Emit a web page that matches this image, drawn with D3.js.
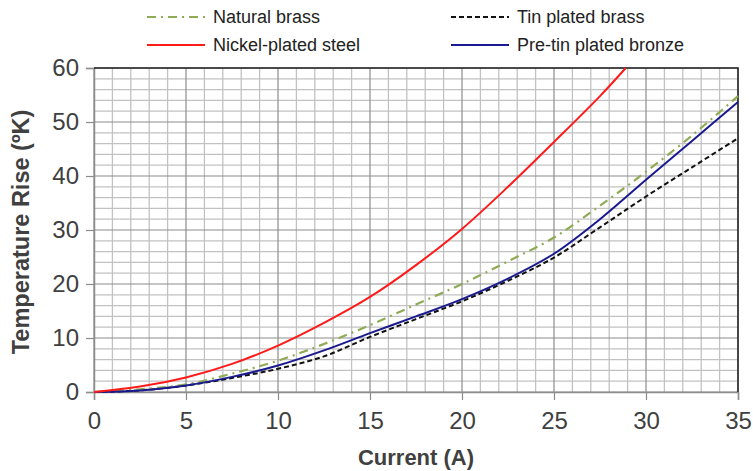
<!DOCTYPE html>
<html><head><meta charset="utf-8">
<script src="https://cdn.jsdelivr.net/npm/d3@7"></script>
<style>
html,body{margin:0;padding:0;background:#fff;}
svg{display:block;font-family:"Liberation Sans",Arial,sans-serif;}
</style></head>
<body><svg id="chart" width="753" height="471"></svg>
<script>
// ---- data ----
const current = [0, 2.5, 5, 7.5, 10, 12.5, 15, 17.5, 20, 22.5, 25, 27.5, 30, 32.5, 35];
const naturalBrass   = [0, 0.5, 1.4, 3.4, 5.8, 8.9, 12.4, 16.2, 20.0, 24.2, 28.6, 34.5, 40.8, 47.5, 54.8];
const tinPlatedBrass = [0, 0.3, 1.2, 2.6, 4.3, 6.6, 10.2, 13.5, 16.8, 20.6, 24.9, 30.5, 36.2, 41.6, 47.0];
const preTinBronze   = [0, 0.3, 1.2, 2.8, 4.9, 7.7, 10.9, 14.0, 17.2, 21.0, 25.6, 32.0, 39.3, 46.5, 53.7];
const nickelCurrent  = [0, 2.5, 5, 7.5, 10, 12.5, 15, 17.5, 20, 22.5, 25, 27.5, 28.9];
const nickelSteel    = [0, 1.0, 2.7, 5.2, 8.6, 12.8, 17.6, 23.5, 30.2, 38.0, 46.3, 54.8, 60.0];
const xTickValues = [0, 5, 10, 15, 20, 25, 30, 35];
const yTickValues = [0, 10, 20, 30, 40, 50, 60];
const seriesNames = ["Natural brass", "Tin plated brass", "Nickel-plated steel", "Pre-tin plated bronze"];
const xTitle = "Current (A)";
const yTitle = "Temperature Rise (ºK)";

// ---- layout ----
const L = 94, R = 738, T = 68, B = 392;
const svg = d3.select("#chart");
const x = d3.scaleLinear().domain([0, 35]).range([L, R]);
const y = d3.scaleLinear().domain([0, 60]).range([B, T]);

// minor grid
const g = svg.append("g");
g.selectAll(".vmin").data(d3.range(0, 36, 1).filter(v => v % 5 !== 0)).join("line")
  .attr("x1", d => x(d)).attr("x2", d => x(d)).attr("y1", T).attr("y2", B)
  .attr("stroke", "#c2c2c2").attr("stroke-width", 1.3);
g.selectAll(".hmin").data(d3.range(0, 61, 2).filter(v => v % 10 !== 0)).join("line")
  .attr("y1", d => y(d)).attr("y2", d => y(d)).attr("x1", L).attr("x2", R)
  .attr("stroke", "#c2c2c2").attr("stroke-width", 1.3);
// major grid
g.selectAll(".vmaj").data(xTickValues).join("line")
  .attr("x1", d => x(d)).attr("x2", d => x(d)).attr("y1", T).attr("y2", B)
  .attr("stroke", "#8c8c8c").attr("stroke-width", 1.2);
g.selectAll(".hmaj").data(yTickValues).join("line")
  .attr("y1", d => y(d)).attr("y2", d => y(d)).attr("x1", L).attr("x2", R)
  .attr("stroke", "#8c8c8c").attr("stroke-width", 1.2);

// axes
const xAxis = d3.axisBottom(x).tickValues(xTickValues).tickSize(8).tickPadding(7);
const yAxis = d3.axisLeft(y).tickValues(yTickValues).tickSize(8).tickPadding(7);
const gx = svg.append("g").attr("transform", `translate(0,${B})`).call(xAxis);
const gy = svg.append("g").attr("transform", `translate(${L},0)`).call(yAxis);
[gx, gy].forEach(a => {
  a.select(".domain").attr("stroke", "#8c8c8c").attr("stroke-width", 1.5);
  a.selectAll(".tick line").attr("stroke", "#8c8c8c").attr("stroke-width", 1.2);
  a.selectAll(".tick text").attr("fill", "#404040").style("font-size", "24px")
    .style("font-family", "'Liberation Sans', Arial, sans-serif");
});
gx.selectAll(".tick text").attr("dy", "0.9em");

// frame top/right
svg.append("path").attr("d", `M${L},${T}H${R}V${B}`).attr("fill", "none")
  .attr("stroke", "#222").attr("stroke-width", 1.5);

// lines
const clip = svg.append("clipPath").attr("id", "clip").append("rect")
  .attr("x", L).attr("y", T - 1).attr("width", R - L + 1).attr("height", B - T + 2);
const line = d3.line().x(d => x(d[0])).y(d => y(d[1])).curve(d3.curveCatmullRom.alpha(0.5));
const series = [
  { vals: d3.zip(current, tinPlatedBrass), color: "#111", dash: "5,3", w: 2 },
  { vals: d3.zip(current, naturalBrass), color: "#8fab55", dash: "9,5,2,5", w: 2.2 },
  { vals: d3.zip(current, preTinBronze), color: "#1a1a90", dash: null, w: 2 },
  { vals: d3.zip(nickelCurrent, nickelSteel), color: "#ff1a1a", dash: null, w: 2 }
];
const lg = svg.append("g").attr("clip-path", "url(#clip)");
series.forEach(s => {
  lg.append("path").datum(s.vals).attr("d", line).attr("fill", "none")
    .attr("stroke", s.color).attr("stroke-width", s.w)
    .attr("stroke-dasharray", s.dash);
});

// axis titles
svg.append("text").attr("x", (L + R) / 2).attr("y", 465).attr("text-anchor", "middle")
  .attr("fill", "#404040").style("font-size", "22px").style("font-weight", "bold").text(xTitle);
svg.append("text").attr("transform", `translate(29,${(T + B) / 2 + 2}) rotate(-90)`)
  .attr("text-anchor", "middle").attr("fill", "#404040")
  .style("font-size", "23.5px").style("font-weight", "bold").text(yTitle);

// legend
const legendItems = [
  { name: seriesNames[0], color: "#8fab55", dash: "9,5,2,5", x0: 147, yy: 17 },
  { name: seriesNames[1], color: "#111", dash: "5,3", x0: 451, yy: 17 },
  { name: seriesNames[2], color: "#ff1a1a", dash: null, x0: 147, yy: 45 },
  { name: seriesNames[3], color: "#1a1a90", dash: null, x0: 451, yy: 45 }
];
const leg = svg.append("g");
legendItems.forEach(it => {
  leg.append("line").attr("x1", it.x0).attr("x2", it.x0 + 58).attr("y1", it.yy).attr("y2", it.yy)
    .attr("stroke", it.color).attr("stroke-width", 2).attr("stroke-dasharray", it.dash);
  leg.append("text").attr("x", it.x0 + 66).attr("y", it.yy).attr("dy", "0.35em")
    .attr("fill", "#222").style("font-size", "18px").text(it.name);
});
</script></body></html>
